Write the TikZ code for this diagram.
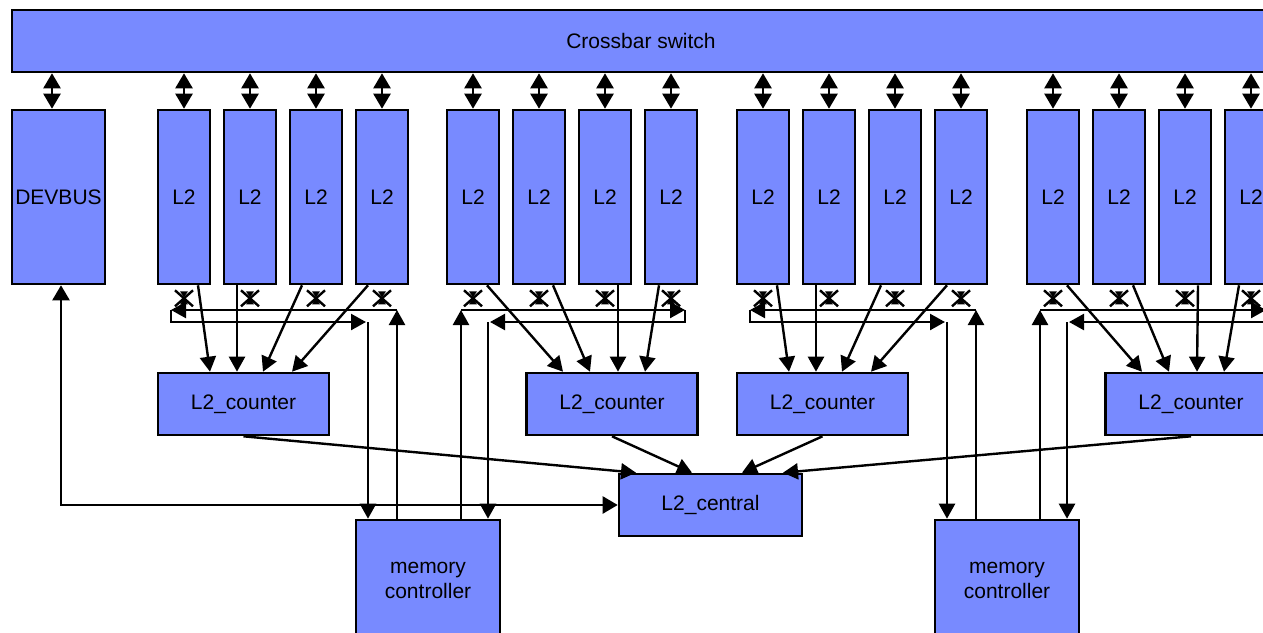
\documentclass[tikz,border=0pt]{standalone}
\usepackage{fontspec}
\setmainfont{Liberation Sans}
\usetikzlibrary{arrows.meta,calc}
\definecolor{boxblue}{RGB}{120,138,255}
\tikzset{
  unitbox/.style={draw=black, line width=2.6pt, fill=boxblue, inner sep=0pt,
    align=center, font=\fontsize{21}{25}\selectfont},
  l2box/.style={unitbox, minimum width=52pt, minimum height=174pt},
  ctrbox/.style={unitbox, minimum width=171pt, minimum height=62pt},
  arr/.style={line width=2.4pt, -{Triangle[length=15pt,width=16pt]}},
  biarr/.style={line width=2.4pt, {Triangle[length=15pt,width=17pt]}-{Triangle[length=15pt,width=17pt]}},
  xmark/.style={line width=2.4pt},
  xtip/.style={fill=black},
}
\begin{document}
\begin{tikzpicture}[x=1pt,y=-1pt]
\useasboundingbox (0,0) rectangle (1263,632);
\fill[white] (0,0) rectangle (1263,632);
\clip (0,0) rectangle (1263,632);

% crossbar and device bus
\node[unitbox, minimum width=1258pt, minimum height=62pt] (xbar) at (641,41) {Crossbar switch};
\node[unitbox, minimum width=93pt, minimum height=174pt] (dev) at (58.5,197) {DEVBUS};
\draw[biarr] ([xshift=-6.5pt]dev.north) -- ([xshift=-6.5pt]dev.north |- xbar.south);

% four groups of L2 banks, each with its crossed link mark below
\foreach \g/\off in {1/0,2/289,3/579,4/869} {
  \foreach \i in {1,...,4} {
    \pgfmathsetmacro\cx{184+\off+66*(\i-1)}
    \node[l2box] (l\g\i) at (\cx,197) {L2};
    \draw[biarr] (l\g\i.north) -- (l\g\i.north |- xbar.south);
    \draw[xmark] ([xshift=-9pt,yshift=-5pt]l\g\i.south) -- ([xshift=9pt,yshift=-21pt]l\g\i.south);
    \draw[xmark] ([xshift=9pt,yshift=-5pt]l\g\i.south) -- ([xshift=-9pt,yshift=-21pt]l\g\i.south);
    \fill[xtip] ([xshift=-4pt,yshift=-6pt]l\g\i.south) -- ([xshift=4pt,yshift=-6pt]l\g\i.south)
      -- ([yshift=-12pt]l\g\i.south) -- cycle;
    \fill[xtip] ([xshift=-4pt,yshift=-19pt]l\g\i.south) -- ([xshift=4pt,yshift=-19pt]l\g\i.south)
      -- ([yshift=-13pt]l\g\i.south) -- cycle;
  }
}

% counters, central unit, memory controllers
\node[ctrbox] (c1) at (243.5,404) {L2\_counter};
\node[ctrbox] (c2) at (612,404) {L2\_counter};
\node[ctrbox] (c3) at (822.5,404) {L2\_counter};
\node[ctrbox] (c4) at (1191,404) {L2\_counter};
\node[unitbox, minimum width=183pt, minimum height=62pt] (cen) at (710.5,505) {L2\_central};
\node[unitbox, minimum width=144pt, minimum height=121pt] (mc1) at (428,580.5) {memory\\controller};
\node[unitbox, minimum width=144pt, minimum height=121pt] (mc2) at (1007,580.5) {memory\\controller};

% L2 banks to their counters
\foreach \g/\c in {1/c1,3/c3} {
  \foreach \i/\s/\t in {1/14/-33.5, 2/-13/-6.5, 3/-14/19.5, 4/-14/48.5}
    \draw[arr] ([xshift=\s pt]l\g\i.south) -- ([xshift=\t pt]\c.north);
}
\foreach \g/\c in {2/c2,4/c4} {
  \foreach \i/\s/\t in {1/14/-49, 2/14/-22, 3/13/6, 4/-12/33}
    \draw[arr] ([xshift=\s pt]l\g\i.south) -- ([xshift=\t pt]\c.north);
}

% counters to the central unit
\draw[arr] (c1.south) -- ([xshift=-74.5pt]cen.north);
\draw[arr] (c2.south) -- ([xshift=-18.5pt]cen.north);
\draw[arr] (c3.south) -- ([xshift=31.5pt]cen.north);
\draw[arr] (c4.south) -- ([xshift=72.5pt]cen.north);

% device bus to the central unit
\draw[biarr] ([xshift=2.5pt]dev.south) |- (cen.west);

% bus loops between the L2 groups and the memory controllers
\coordinate (b1u) at (171,310); \coordinate (b1l) at (171,322);
\coordinate (b3u) at (750,310); \coordinate (b3l) at (750,322);
\coordinate (b2u) at (685,310); \coordinate (b2l) at (685,322);
\coordinate (b4u) at (1266,310); \coordinate (b4l) at (1266,322);

\foreach \b/\m in {b1/mc1, b3/mc2} {
  \draw[arr] ([xshift=-31pt]\m.north) -- ([xshift=-31pt]\m.north |- \b u);
  \draw[arr] ([xshift=-31pt]\m.north |- \b u) -- (\b u);
  \draw[arr] (\b u) -- (\b l) -- ([xshift=-62pt]\m.north |- \b l);
  \draw[arr] ([xshift=-60pt]\m.north |- \b l) -- ([xshift=-60pt]\m.north);
}
\foreach \b/\m in {b2/mc1, b4/mc2} {
  \draw[arr] ([xshift=33pt]\m.north) -- ([xshift=33pt]\m.north |- \b u);
  \draw[arr] ([xshift=33pt]\m.north |- \b u) -- (\b u);
  \draw[arr] (\b u) -- (\b l) -- ([xshift=62pt]\m.north |- \b l);
  \draw[arr] ([xshift=60pt]\m.north |- \b l) -- ([xshift=60pt]\m.north);
}
\end{tikzpicture}
\end{document}
